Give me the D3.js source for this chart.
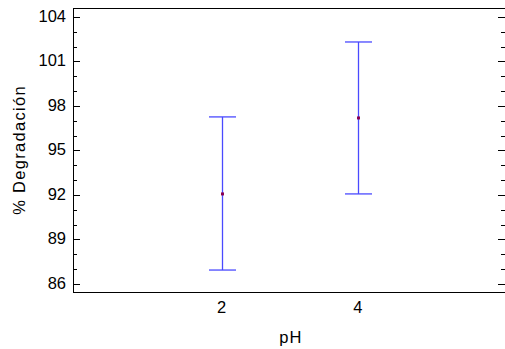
<!DOCTYPE html>
<html>
<head>
<meta charset="utf-8">
<script src="https://cdn.jsdelivr.net/npm/d3@7"></script>
<style>
  body { margin: 0; background: #fff; }
  text { font-family: "Liberation Sans", Arial, sans-serif; }
</style>
</head>
<body>
<svg></svg>
<script>
const width = 505
const height = 349
const marge = {top: 8, bottom: 57, left: 73, right: 0}

// datos: pH, media y limites del intervalo
const phLevels = [2, 4]
const means = [92.07, 97.19]
const lower = [86.94, 92.07]
const upper = [97.26, 102.31]
const yTicks = [86, 89, 92, 95, 98, 101, 104]

const svg = d3.select('svg').attr('width', width).attr('height', height)

const x = d3.scaleLinear().domain([-0.18, 6.16]).range([marge.left, width - marge.right])
const y = d3.scaleLinear().domain([85.46, 104.6]).range([height - marge.bottom, marge.top])

const minor = d3.range(86, 105, 1)

// marco
svg.append('line').attr('x1', marge.left).attr('x2', width).attr('y1', marge.top + 0.5).attr('y2', marge.top + 0.5)
  .attr('stroke', '#000').attr('stroke-width', 1)
svg.append('line').attr('x1', marge.left).attr('x2', width).attr('y1', y.range()[0] + 0.5).attr('y2', y.range()[0] + 0.5)
  .attr('stroke', '#000').attr('stroke-width', 1)
svg.append('line').attr('x1', marge.left + 0.5).attr('x2', marge.left + 0.5).attr('y1', marge.top).attr('y2', y.range()[0] + 1)
  .attr('stroke', '#000').attr('stroke-width', 1)

// ticks eje y (izquierda y derecha, hacia dentro)
minor.forEach(function (v) {
  const major = yTicks.indexOf(v) >= 0
  const len = major ? 7 : 4
  const yy = Math.round(y(v)) + 0.5
  svg.append('line').attr('x1', marge.left).attr('x2', marge.left + len).attr('y1', yy).attr('y2', yy)
    .attr('stroke', '#000')
  svg.append('line').attr('x1', width - len).attr('x2', width).attr('y1', yy).attr('y2', yy)
    .attr('stroke', '#000')
})

svg.append('g').selectAll('text').data(yTicks).enter().append('text')
  .attr('x', marge.left - 7)
  .attr('y', function (d) { return y(d) + 5 })
  .attr('text-anchor', 'end')
  .attr('font-size', 16.5)
  .attr('fill', '#000')
  .text(function (d) { return d })

svg.append('g').selectAll('text').data(phLevels).enter().append('text')
  .attr('x', function (d) { return x(d) })
  .attr('y', 313)
  .attr('text-anchor', 'middle')
  .attr('font-size', 16.5)
  .attr('fill', '#000')
  .text(function (d) { return d })

// titulos
svg.append('text').attr('x', 291).attr('y', 342.5)
  .attr('text-anchor', 'middle').attr('font-size', 16.5).attr('letter-spacing', 1.3).text('pH')
svg.append('text').attr('transform', 'translate(25,150) rotate(-90)')
  .attr('text-anchor', 'middle').attr('font-size', 16.5).attr('letter-spacing', 1.3).text('% Degradación')

// barras de error
const g = svg.append('g')
phLevels.forEach(function (p, i) {
  const cx = Math.round(x(p)) + 0.5
  g.append('line').attr('x1', cx).attr('x2', cx).attr('y1', y(upper[i])).attr('y2', y(lower[i]))
    .attr('stroke', '#4a4aff').attr('stroke-width', 1.3)
  ;[upper[i], lower[i]].forEach(function (v) {
    g.append('line').attr('x1', cx - 13.5).attr('x2', cx + 13.5).attr('y1', y(v)).attr('y2', y(v))
      .attr('stroke', '#4a4aff').attr('stroke-width', 1.3)
  })
  g.append('rect').attr('x', cx - 1.5).attr('y', y(means[i]) - 1.5).attr('width', 3).attr('height', 3)
    .attr('fill', '#8a0050')
})
</script>
</body>
</html>
